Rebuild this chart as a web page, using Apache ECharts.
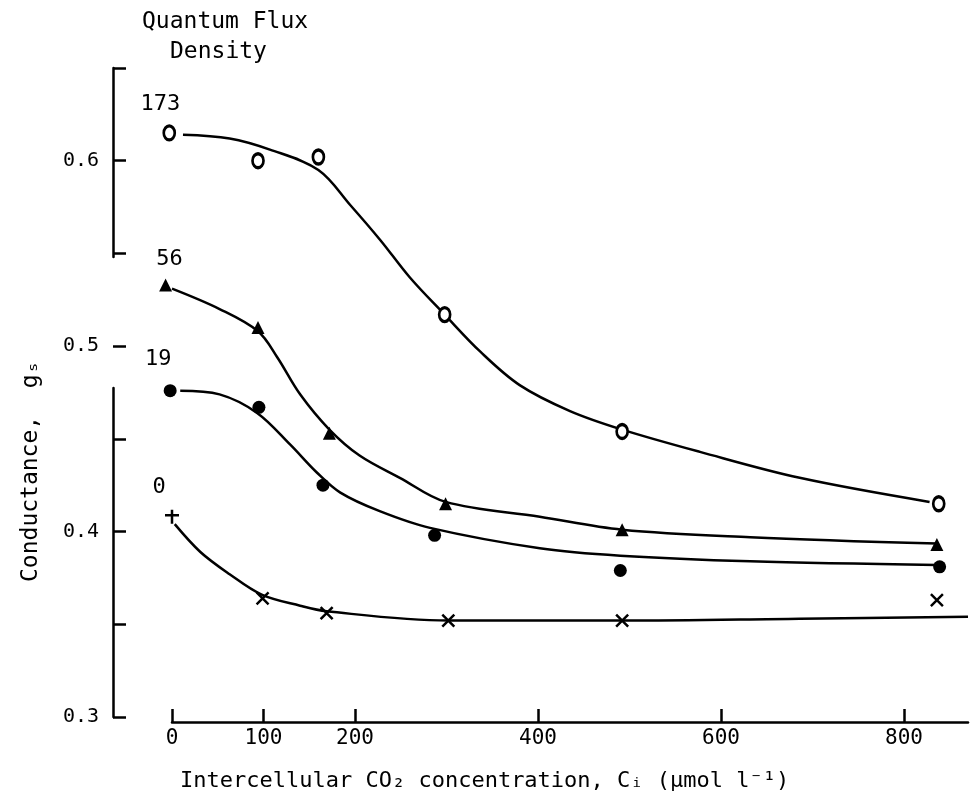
<!DOCTYPE html>
<html>
<head>
<meta charset="utf-8">
<script src="https://cdn.jsdelivr.net/npm/echarts@6/dist/echarts.min.js"></script>
<style>
  html, body { margin: 0; padding: 0; background: #fff; }
  #container { width: 972px; height: 804px; }
</style>
</head>
<body>
<div id="container"></div>
<script>
// x ticks and y ticks
var xTickValues = [0, 100, 200, 400, 600, 800];
var yTickValues = [0.3, 0.4, 0.5, 0.6];

// measured points (Ci, conductance)
var ci173 = [-3, 94, 160, 298, 492, 838];
var gs173 = [0.615, 0.600, 0.602, 0.517, 0.454, 0.415];
var ci56 = [-7, 94, 172, 299, 492, 836];
var gs56 = [0.533, 0.510, 0.453, 0.415, 0.401, 0.393];
var ci19 = [-2, 95, 165, 287, 490, 839];
var gs19 = [0.476, 0.467, 0.425, 0.398, 0.379, 0.381];
var ci0 = [0, 99, 169, 302, 492, 836];
var gs0 = [0.408, 0.364, 0.356, 0.352, 0.352, 0.363];

// hand drawn curves
var fitCi173 = [12, 63, 107, 160, 195, 228, 260, 298, 337, 380, 435, 492, 577, 686, 828];
var fitGs173 = [0.614, 0.612, 0.606, 0.595, 0.576, 0.557, 0.537, 0.517, 0.497, 0.479, 0.465, 0.455, 0.443, 0.429, 0.416];
var fitCi56 = [0, 52, 94, 115, 140, 172, 205, 249, 299, 402, 492, 632, 836];
var fitGs56 = [0.531, 0.520, 0.508, 0.494, 0.474, 0.455, 0.441, 0.429, 0.416, 0.408, 0.401, 0.397, 0.3935];
var fitCi19 = [9, 52, 93, 129, 158, 184, 227, 282, 402, 490, 632, 836];
var fitGs19 = [0.476, 0.474, 0.464, 0.447, 0.432, 0.421, 0.411, 0.402, 0.391, 0.387, 0.384, 0.382];
var fitCi0 = [3, 31, 63, 98, 140, 169, 302, 492, 686, 870];
var fitGs0 = [0.404, 0.389, 0.377, 0.366, 0.360, 0.357, 0.352, 0.352, 0.353, 0.354];

var seriesNames = ['173', '56', '19', '0'];

var crossPath = 'path://M0,0L10,10M10,0L0,10';
var plusPath = 'path://M5,0L5,10M0,4L10,4';
var font = 'DejaVu Sans Mono';

function pairs(xs, ys) {
    return xs.map(function (x, i) { return [x, ys[i]]; });
}

function markSeries(name, xs, ys, symbol, size, filled, labelOffset) {
    var data = pairs(xs, ys).map(function (p, i) {
        var item = { value: p };
        if (i === 0) {
            item.label = {
                show: true, formatter: name, position: 'top',
                offset: labelOffset, color: '#000',
                fontFamily: font, fontSize: 22
            };
        }
        return item;
    });
    return {
        name: name,
        type: 'scatter',
        symbol: symbol,
        symbolSize: size,
        clip: false,
        itemStyle: {
            color: filled ? '#000' : '#fff',
            borderColor: '#000',
            borderWidth: filled ? 0 : 3,
            opacity: 1
        },
        data: data,
        z: 5
    };
}

function fitSeries(xs, ys) {
    return {
        type: 'line',
        data: pairs(xs, ys),
        symbol: 'none',
        smooth: 0.35,
        clip: false,
        lineStyle: { color: '#000', width: 2.5 },
        silent: true,
        z: 3
    };
}

var s0 = markSeries(seriesNames[3], ci0, gs0, crossPath, 12, false, [-13, -5]);
s0.itemStyle = { color: 'transparent', borderColor: '#000', borderWidth: 2.5, opacity: 1 };
s0.data[0].symbol = plusPath;
s0.data[0].symbolSize = 14;

var myChart = echarts.init(document.getElementById('container'));
var option = {
    animation: false,
    backgroundColor: '#fff',
    textStyle: { fontFamily: font, color: '#000' },
    grid: { left: 172, right: 4, top: 68, bottom: 87 },
    xAxis: {
        type: 'value',
        min: 0,
        max: 870,
        offset: 5,
        splitLine: { show: false },
        axisLine: { onZero: false, lineStyle: { color: '#000', width: 2.5 } },
        axisTick: { inside: true, length: 13, customValues: xTickValues, lineStyle: { color: '#000', width: 2.5 } },
        axisLabel: { customValues: xTickValues, color: '#000', fontFamily: font, fontSize: 21, margin: 6 }
    },
    yAxis: {
        type: 'value',
        min: 0.3,
        max: 0.65,
        interval: 0.05,
        offset: 59,
        splitLine: { show: false },
        axisLine: { onZero: false, lineStyle: { color: '#000', width: 2.5, type: [329, 131, 400] } },
        axisTick: { inside: true, length: 13, lineStyle: { color: '#000', width: 2.5 } },
        axisLabel: {
            color: '#000', fontFamily: font, fontSize: 20, margin: 14,
            formatter: function (v) {
                for (var i = 0; i < yTickValues.length; i++) {
                    if (Math.abs(v - yTickValues[i]) < 1e-6) return yTickValues[i].toFixed(1);
                }
                return '';
            }
        }
    },
    graphic: [
        {
            type: 'text', left: 142, top: 11,
            style: { text: 'Quantum Flux', font: '23px "DejaVu Sans Mono"', fill: '#000' }
        },
        {
            type: 'text', left: 170, top: 41,
            style: { text: 'Density', font: '23px "DejaVu Sans Mono"', fill: '#000' }
        },
        {
            type: 'text', left: 180, top: 770,
            style: { text: 'Intercellular CO\u2082 concentration, C\u1d62 (\u03bcmol l\u207b\u00b9)', font: '22px "DejaVu Sans Mono"', fill: '#000' }
        },
        {
            type: 'text', x: 20, y: 582, rotation: Math.PI / 2,
            style: { text: 'Conductance,  g\u209b', font: '23px "DejaVu Sans Mono"', fill: '#000' }
        }
    ],
    series: [
        fitSeries(fitCi173, fitGs173),
        fitSeries(fitCi56, fitGs56),
        fitSeries(fitCi19, fitGs19),
        fitSeries(fitCi0, fitGs0),
        markSeries(seriesNames[0], ci173, gs173, 'circle', [11, 14], false, [-9, -4]),
        markSeries(seriesNames[1], ci56, gs56, 'triangle', 13, true, [4, -3]),
        markSeries(seriesNames[2], ci19, gs19, 'circle', 13, true, [-12, -9]),
        s0
    ]
};
myChart.setOption(option);
</script>
</body>
</html>
